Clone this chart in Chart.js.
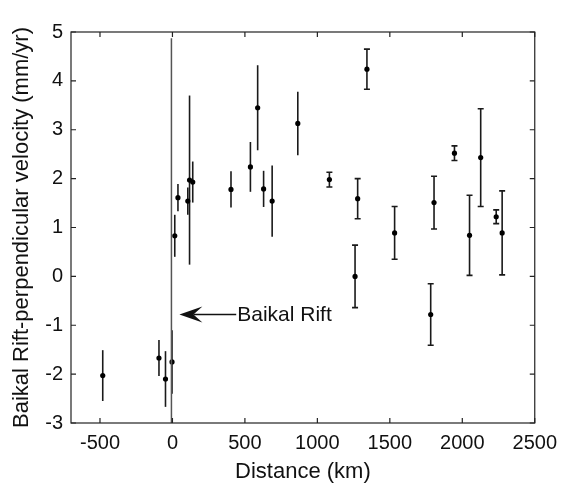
<!DOCTYPE html>
<html>
<head>
<meta charset="utf-8">
<script src="https://cdn.jsdelivr.net/npm/chart.js@4"></script>
<style>
  html, body { margin: 0; padding: 0; background: #fff; }
  #wrap { width: 565px; height: 486px; }
</style>
</head>
<body>
<div id="wrap"><canvas id="velocityChart"></canvas></div>
<script>
// distance from the rift (km), velocity (mm/yr) and 1-sigma error
const distKm = [-481, -93, -48, -3, 16, 38, 106, 118, 140, 404, 538, 588, 629, 688, 865,
    1083, 1260, 1278, 1342, 1533, 1782, 1805, 1946, 2050, 2127, 2234, 2275];
const velocity = [-2.03, -1.67, -2.10, -1.75, 0.83, 1.61, 1.54, 1.97, 1.93, 1.78, 2.24, 3.45, 1.79, 1.54, 3.13,
    1.98, 0.00, 1.59, 4.24, 0.89, -0.78, 1.51, 2.52, 0.84, 2.43, 1.22, 0.89];
const velErr = [0.52, 0.37, 0.57, 0.65, 0.43, 0.28, 0.28, 1.73, 0.42, 0.37, 0.51, 0.87, 0.37, 0.73, 0.65,
    0.15, 0.64, 0.41, 0.41, 0.54, 0.63, 0.54, 0.15, 0.82, 1.00, 0.14, 0.86];

// rift axis line and annotation
const riftLineX = [-7, -7];
const riftLineY = [-3, 4.87];
const arrowTipX = 48;
const arrowTailX = 440;
const arrowY = -0.78;
const arrowLabel = 'Baikal Rift';

const xTicks = [-500, 0, 500, 1000, 1500, 2000, 2500];
const yTicks = [-3, -2, -1, 0, 1, 2, 3, 4, 5];

const FONT = "'Liberation Sans', Arial, Helvetica, sans-serif";

const errorBars = {
    id: 'errorBars',
    beforeDatasetsDraw(chart) {
        const { ctx, scales: { x, y } } = chart;
        ctx.save();
        ctx.strokeStyle = '#1a1a1a';
        ctx.lineWidth = 1.6;
        distKm.forEach((d, i) => {
            const px = x.getPixelForValue(d);
            const top = y.getPixelForValue(velocity[i] + velErr[i]);
            const bot = y.getPixelForValue(velocity[i] - velErr[i]);
            ctx.beginPath();
            ctx.moveTo(px, top);
            ctx.lineTo(px, bot);
            // the far-field stations carry end caps
            if (d >= 1000) {
                ctx.moveTo(px - 3, top);
                ctx.lineTo(px + 3, top);
                ctx.moveTo(px - 3, bot);
                ctx.lineTo(px + 3, bot);
            }
            ctx.stroke();
        });
        ctx.restore();
    },
};

const frameAndArrow = {
    id: 'frameAndArrow',
    afterDatasetsDraw(chart) {
        const { ctx, chartArea: a, scales: { x, y } } = chart;
        ctx.save();
        // box
        ctx.strokeStyle = '#222';
        ctx.lineWidth = 1.2;
        ctx.strokeRect(a.left, a.top, a.right - a.left, a.bottom - a.top);
        // inward ticks on all sides
        const tl = 5;
        ctx.beginPath();
        xTicks.forEach(v => {
            const px = x.getPixelForValue(v);
            ctx.moveTo(px, a.bottom); ctx.lineTo(px, a.bottom - tl);
            ctx.moveTo(px, a.top); ctx.lineTo(px, a.top + tl);
        });
        yTicks.forEach(v => {
            const py = y.getPixelForValue(v);
            ctx.moveTo(a.left, py); ctx.lineTo(a.left + tl, py);
            ctx.moveTo(a.right, py); ctx.lineTo(a.right - tl, py);
        });
        ctx.stroke();

        // arrow
        const tip = x.getPixelForValue(arrowTipX);
        const tail = x.getPixelForValue(arrowTailX);
        const ay = y.getPixelForValue(arrowY);
        ctx.strokeStyle = '#111';
        ctx.fillStyle = '#111';
        ctx.lineWidth = 1.3;
        ctx.beginPath();
        ctx.moveTo(tip + 14, ay);
        ctx.lineTo(tail, ay);
        ctx.stroke();
        ctx.beginPath();
        ctx.moveTo(tip, ay);
        ctx.lineTo(tip + 23, ay - 8);
        ctx.lineTo(tip + 14, ay);
        ctx.lineTo(tip + 23, ay + 8);
        ctx.closePath();
        ctx.fill();
        ctx.font = '21px ' + FONT;
        ctx.textBaseline = 'middle';
        ctx.textAlign = 'left';
        ctx.fillText(arrowLabel, tail + 1, ay + 1);
        ctx.restore();
    },
};

new Chart(document.getElementById('velocityChart'), {
    type: 'scatter',
    data: {
        datasets: [
            {
                type: 'line',
                data: riftLineX.map((v, i) => ({ x: v, y: riftLineY[i] })),
                borderColor: '#555',
                borderWidth: 1.5,
                pointRadius: 0,
                fill: false,
            },
            {
                data: distKm.map((v, i) => ({ x: v, y: velocity[i] })),
                backgroundColor: '#000',
                borderColor: '#000',
                pointRadius: 2.6,
                borderWidth: 0,
            },
        ],
    },
    options: {
        responsive: true,
        maintainAspectRatio: false,
        animation: false,
        layout: { padding: { top: 32, right: 24, left: 0, bottom: 0 } },
        plugins: {
            legend: { display: false },
            tooltip: { enabled: false },
        },
        scales: {
            x: {
                type: 'linear',
                min: -700,
                max: 2500,
                afterBuildTicks(scale) { scale.ticks = xTicks.map(v => ({ value: v })); },
                afterFit(scale) { scale.height = 63; },
                grid: { display: false, drawTicks: false },
                border: { display: false },
                ticks: {
                    color: '#111',
                    font: { family: FONT, size: 20 },
                    padding: 8,
                    maxRotation: 0,
                    callback: v => String(v),
                },
                title: {
                    display: true,
                    text: 'Distance (km)',
                    color: '#111',
                    font: { family: FONT, size: 22 },
                    padding: { top: 0, bottom: 1 },
                },
            },
            y: {
                type: 'linear',
                min: -3,
                max: 5,
                afterBuildTicks(scale) { scale.ticks = yTicks.map(v => ({ value: v })); },
                afterFit(scale) { scale.width = 71; },
                grid: { display: false, drawTicks: false },
                border: { display: false },
                ticks: {
                    color: '#111',
                    font: { family: FONT, size: 20 },
                    padding: 8,
                    callback: v => String(v),
                },
                title: {
                    display: true,
                    text: 'Baikal Rift-perpendicular velocity (mm/yr)',
                    color: '#111',
                    font: { family: FONT, size: 22 },
                    padding: { top: 9, bottom: 0 },
                },
            },
        },
    },
    plugins: [errorBars, frameAndArrow],
});
</script>
</body>
</html>
